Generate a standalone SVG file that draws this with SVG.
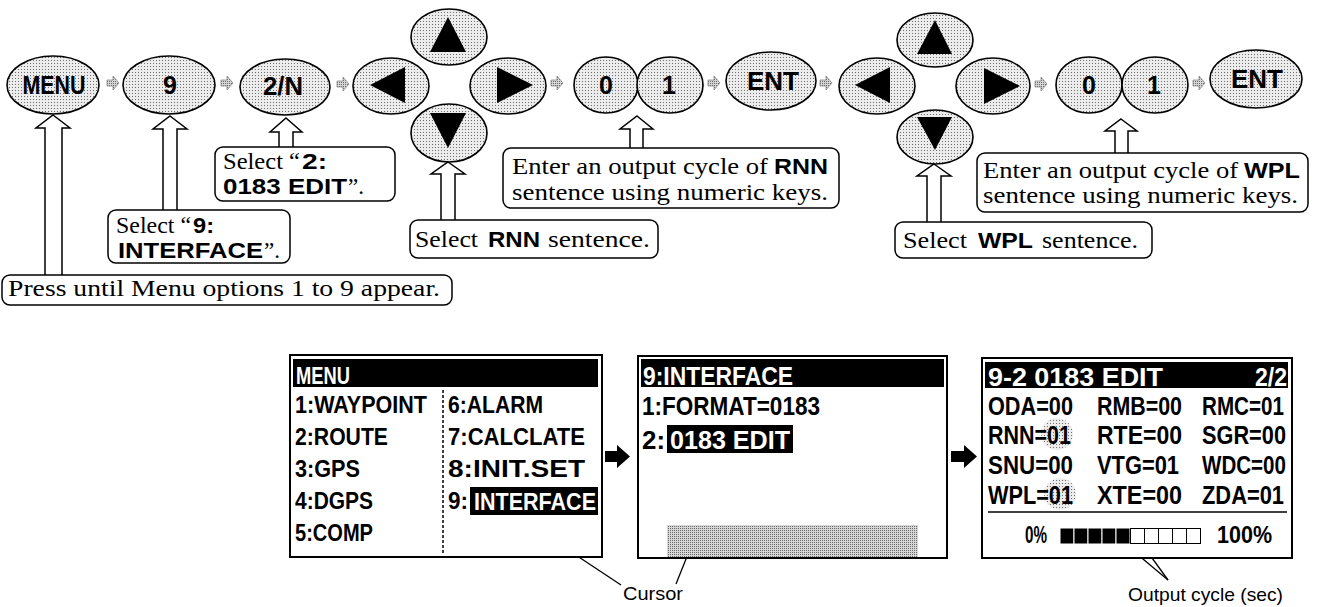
<svg xmlns="http://www.w3.org/2000/svg" width="1317" height="607" viewBox="0 0 1317 607">
<defs>
<pattern id="dots" width="3" height="3" patternUnits="userSpaceOnUse"><rect width="3" height="3" fill="#ececec"/><rect width="1" height="1" fill="#6e6e6e"/></pattern>
<pattern id="dots2" width="2" height="2" patternUnits="userSpaceOnUse"><rect width="2" height="2" fill="#d6d6d6"/><rect width="1" height="1" fill="#6a6a6a"/></pattern>
<style>
.key{fill:url(#dots);stroke:#000;stroke-width:1.6}
.tri{fill:#000}
.kt{font-family:"Liberation Sans",Arial,sans-serif;font-weight:bold;font-size:25px;text-anchor:middle;fill:#000}
.box{fill:#fff;stroke:#000;stroke-width:1.5}
.sf{font-family:"Liberation Serif","Times New Roman",serif;font-size:23px;fill:#000}
.bs{font-family:"Liberation Sans",Arial,sans-serif;font-weight:bold;font-size:22px;fill:#000}
.ca{fill:#fff;stroke:#000;stroke-width:1.5;stroke-linejoin:miter}
.flow{fill:url(#dots2);stroke:#8a8a8a;stroke-width:0.8}
.frame{fill:#fff;stroke:#000;stroke-width:2}
.bar{fill:#000}
.lcd{font-family:"Liberation Sans",Arial,sans-serif;font-weight:bold;font-size:23px;fill:#000}
.lcd2{font-family:"Liberation Sans",Arial,sans-serif;font-weight:bold;font-size:25px;fill:#000}
.w{fill:#fff}
.lab{font-family:"Liberation Sans",Arial,sans-serif;font-size:19px;fill:#000}
.ln{stroke:#000;stroke-width:1.3;fill:none}
.blk{fill:#000}
</style>
</defs>
<rect width="1317" height="607" fill="#fff"/>

<!-- keys -->
<g id="key-menu"><ellipse class="key" cx="53" cy="85" rx="46" ry="29"/><text class="kt" x="54" y="94" textLength="63" lengthAdjust="spacingAndGlyphs">MENU</text></g>
<g id="key-9"><ellipse class="key" cx="169" cy="85" rx="46" ry="29"/><text class="kt" x="170" y="94">9</text></g>
<g id="key-2n"><ellipse class="key" cx="285" cy="87" rx="45" ry="28"/><text class="kt" x="283" y="95" textLength="40" lengthAdjust="spacingAndGlyphs">2/N</text></g>
<g id="key-left1"><ellipse class="key" cx="391" cy="86" rx="38" ry="28"/><polygon class="tri" points="370,85 405,67 405,103"/></g>
<g id="key-up1"><ellipse class="key" cx="449" cy="37" rx="38" ry="28"/><polygon class="tri" points="448,17 430,52 466,52"/></g>
<g id="key-right1"><ellipse class="key" cx="508" cy="86" rx="38" ry="28"/><polygon class="tri" points="533,85 497,67 497,103"/></g>
<g id="key-down1"><ellipse class="key" cx="449" cy="133" rx="38" ry="29"/><polygon class="tri" points="448,148 430,113 466,113"/></g>
<g id="key-0a"><ellipse class="key" cx="606" cy="85" rx="32" ry="28"/><text class="kt" x="606" y="94">0</text></g>
<g id="key-1a"><ellipse class="key" cx="670" cy="85" rx="33" ry="28"/><text class="kt" x="669" y="94">1</text></g>
<g id="key-enta"><ellipse class="key" cx="771" cy="81" rx="45" ry="29"/><text class="kt" x="773" y="90" textLength="52" lengthAdjust="spacingAndGlyphs">ENT</text></g>
<g id="key-left2"><ellipse class="key" cx="877" cy="86" rx="38" ry="28"/><polygon class="tri" points="855,85 890,67 890,103"/></g>
<g id="key-up2"><ellipse class="key" cx="935" cy="40" rx="38" ry="27"/><polygon class="tri" points="935,20 917,54 952,54"/></g>
<g id="key-right2"><ellipse class="key" cx="993" cy="86" rx="37" ry="28"/><polygon class="tri" points="1020,86 984,68 984,104"/></g>
<g id="key-down2"><ellipse class="key" cx="935" cy="137" rx="38" ry="27"/><polygon class="tri" points="935,150 917,117 952,117"/></g>
<g id="key-0b"><ellipse class="key" cx="1089" cy="85" rx="33" ry="28"/><text class="kt" x="1089" y="94">0</text></g>
<g id="key-1b"><ellipse class="key" cx="1155" cy="85" rx="33" ry="28"/><text class="kt" x="1154" y="94">1</text></g>
<g id="key-entb"><ellipse class="key" cx="1256" cy="79" rx="46" ry="29"/><text class="kt" x="1257" y="88" textLength="52" lengthAdjust="spacingAndGlyphs">ENT</text></g>

<!-- connectors -->
<g id="connectors">
<g id="flow-arrows">
<polygon class="flow" transform="translate(113,83)" points="-6,-3 0,-3 0,-7 6,0 0,7 0,3 -6,3"/>
<polygon class="flow" transform="translate(227,83)" points="-6,-3 0,-3 0,-7 6,0 0,7 0,3 -6,3"/>
<polygon class="flow" transform="translate(343,84)" points="-6,-3 0,-3 0,-7 6,0 0,7 0,3 -6,3"/>
<polygon class="flow" transform="translate(557,83)" points="-6,-3 0,-3 0,-7 6,0 0,7 0,3 -6,3"/>
<polygon class="flow" transform="translate(714,83)" points="-6,-3 0,-3 0,-7 6,0 0,7 0,3 -6,3"/>
<polygon class="flow" transform="translate(826,83)" points="-6,-3 0,-3 0,-7 6,0 0,7 0,3 -6,3"/>
<polygon class="flow" transform="translate(1041,84)" points="-6,-3 0,-3 0,-7 6,0 0,7 0,3 -6,3"/>
<polygon class="flow" transform="translate(1199,83)" points="-6,-3 0,-3 0,-7 6,0 0,7 0,3 -6,3"/>
</g>
<g id="callout-arrows">
<polygon class="ca" points="53,115 70,128 62,128 62,276 45,276 45,128 36,128"/>
<polygon class="ca" points="170,116 187,129 177,129 177,211 163,211 163,129 153,129"/>
<polygon class="ca" points="286,118 302,132 293,132 293,148 279,148 279,132 270,132"/>
<polygon class="ca" points="448,162 465,174 455,174 455,221 441,221 441,174 431,174"/>
<polygon class="ca" points="637,116 653,129 643,129 643,149 630,149 630,129 620,129"/>
<polygon class="ca" points="934,164 951,176 941,176 941,223 927,223 927,176 917,176"/>
<polygon class="ca" points="1121,119 1137,131 1128,131 1128,154 1115,154 1115,131 1105,131"/>
</g>
<g id="screen-arrows">
<polygon class="blk" points="605,451 617,451 617,445 630,456.5 617,468 617,462 605,462"/>
<polygon class="blk" points="951,451 964,451 964,445 977,456.5 964,468 964,462 951,462"/>
</g>
<g id="pointer-lines">
<line class="ln" x1="517" y1="516" x2="621" y2="585"/>
<line class="ln" x1="729" y1="452" x2="676" y2="584"/>
<line class="ln" x1="1068" y1="442" x2="1168" y2="580"/>
<line class="ln" x1="1075" y1="502" x2="1168" y2="580"/>
</g>
</g>

<!-- callout boxes -->
<g id="note-press"><rect class="box" x="2" y="275" width="450" height="30" rx="8"/><text class="sf" x="8" y="296" textLength="432" lengthAdjust="spacingAndGlyphs">Press until Menu options 1 to 9 appear.</text></g>
<g id="note-select9"><rect class="box" x="108" y="210" width="182" height="53" rx="8"/>
<text class="sf" x="116" y="233" textLength="75" lengthAdjust="spacingAndGlyphs">Select “</text><text class="bs" x="193" y="233" textLength="21" lengthAdjust="spacingAndGlyphs">9:</text>
<text class="bs" x="118" y="258" textLength="145" lengthAdjust="spacingAndGlyphs">INTERFACE</text><text class="sf" x="264" y="258">”.</text></g>
<g id="note-select2"><rect class="box" x="215" y="147" width="180" height="54" rx="8"/>
<text class="sf" x="223" y="169" textLength="77" lengthAdjust="spacingAndGlyphs">Select “</text><text class="bs" x="302" y="169" textLength="25" lengthAdjust="spacingAndGlyphs">2:</text>
<text class="bs" x="223" y="194" textLength="124" lengthAdjust="spacingAndGlyphs">0183 EDIT</text><text class="sf" x="348" y="194">”.</text></g>
<g id="note-selectrnn"><rect class="box" x="410" y="220" width="248" height="38" rx="8"/>
<text class="sf" x="415" y="247" textLength="63" lengthAdjust="spacingAndGlyphs">Select</text><text class="bs" x="488" y="247" textLength="52" lengthAdjust="spacingAndGlyphs">RNN</text><text class="sf" x="548" y="247" textLength="102" lengthAdjust="spacingAndGlyphs">sentence.</text></g>
<g id="note-enterrnn"><rect class="box" x="503" y="148" width="336" height="60" rx="8"/>
<text class="sf" x="512" y="174" textLength="256" lengthAdjust="spacingAndGlyphs">Enter an output cycle of</text><text class="bs" x="774" y="174" textLength="54" lengthAdjust="spacingAndGlyphs">RNN</text>
<text class="sf" x="512" y="200" textLength="316" lengthAdjust="spacingAndGlyphs">sentence using numeric keys.</text></g>
<g id="note-selectwpl"><rect class="box" x="895" y="222" width="257" height="36" rx="8"/>
<text class="sf" x="903" y="248" textLength="64" lengthAdjust="spacingAndGlyphs">Select</text><text class="bs" x="978" y="248" textLength="55" lengthAdjust="spacingAndGlyphs">WPL</text><text class="sf" x="1042" y="248" textLength="96" lengthAdjust="spacingAndGlyphs">sentence.</text></g>
<g id="note-enterwpl"><rect class="box" x="977" y="153" width="331" height="59" rx="8"/>
<text class="sf" x="983" y="178" textLength="255" lengthAdjust="spacingAndGlyphs">Enter an output cycle of</text><text class="bs" x="1244" y="178" textLength="56" lengthAdjust="spacingAndGlyphs">WPL</text>
<text class="sf" x="983" y="203" textLength="315" lengthAdjust="spacingAndGlyphs">sentence using numeric keys.</text></g>

<!-- screen 1 -->
<g id="screen-menu">
<rect class="frame" x="290" y="355" width="312" height="202"/>
<rect class="bar" x="293" y="359" width="305" height="28"/>
<text class="lcd w" x="296" y="384" textLength="54" lengthAdjust="spacingAndGlyphs">MENU</text>
<text class="lcd" x="295" y="413" textLength="132" lengthAdjust="spacingAndGlyphs">1:WAYPOINT</text>
<text class="lcd" x="295" y="445" textLength="93" lengthAdjust="spacingAndGlyphs">2:ROUTE</text>
<text class="lcd" x="295" y="477" textLength="65" lengthAdjust="spacingAndGlyphs">3:GPS</text>
<text class="lcd" x="295" y="509" textLength="78" lengthAdjust="spacingAndGlyphs">4:DGPS</text>
<text class="lcd" x="295" y="541" textLength="78" lengthAdjust="spacingAndGlyphs">5:COMP</text>
<line x1="443" y1="390" x2="443" y2="555" stroke="#000" stroke-width="1.5" stroke-dasharray="3 2"/>
<text class="lcd" x="448" y="413" textLength="95" lengthAdjust="spacingAndGlyphs">6:ALARM</text>
<text class="lcd" x="448" y="445" textLength="137" lengthAdjust="spacingAndGlyphs">7:CALCLATE</text>
<text class="lcd" x="448" y="477" textLength="137" lengthAdjust="spacingAndGlyphs">8:INIT.SET</text>
<text class="lcd" x="448" y="509" textLength="20" lengthAdjust="spacingAndGlyphs">9:</text>
<rect class="bar" x="470" y="487" width="128" height="28"/>
<text class="lcd w" x="474" y="510" textLength="122" lengthAdjust="spacingAndGlyphs">INTERFACE</text>
</g>

<!-- screen 2 -->
<g id="screen-interface">
<rect class="frame" x="638" y="356" width="309" height="202"/>
<rect class="bar" x="641" y="359" width="303" height="28"/>
<text class="lcd2 w" x="643" y="385" textLength="150" lengthAdjust="spacingAndGlyphs">9:INTERFACE</text>
<text class="lcd2" x="642" y="415" textLength="178" lengthAdjust="spacingAndGlyphs">1:FORMAT=0183</text>
<text class="lcd2" x="642" y="449" textLength="23" lengthAdjust="spacingAndGlyphs">2:</text>
<rect class="bar" x="667" y="425" width="126" height="28"/>
<text class="lcd2 w" x="670" y="449" textLength="120" lengthAdjust="spacingAndGlyphs">0183 EDIT</text>
<rect x="667" y="525" width="251" height="32" fill="url(#dots2)"/>
</g>

<!-- screen 3 -->
<g id="screen-edit">
<rect class="frame" x="982" y="358" width="310" height="200"/>
<rect class="bar" x="985" y="362" width="303" height="26"/>
<text class="lcd2 w" x="988" y="386" textLength="175" lengthAdjust="spacingAndGlyphs">9-2 0183  EDIT</text>
<text class="lcd2 w" x="1255" y="386" textLength="32" lengthAdjust="spacingAndGlyphs">2/2</text>
<circle cx="1057" cy="434" r="16" fill="url(#dots)"/>
<circle cx="1060" cy="494" r="16" fill="url(#dots)"/>
<text class="lcd2" x="988" y="415" textLength="85" lengthAdjust="spacingAndGlyphs">ODA=00</text>
<text class="lcd2" x="1097" y="415" textLength="85" lengthAdjust="spacingAndGlyphs">RMB=00</text>
<text class="lcd2" x="1202" y="415" textLength="82" lengthAdjust="spacingAndGlyphs">RMC=01</text>
<text class="lcd2" x="988" y="444" textLength="83" lengthAdjust="spacingAndGlyphs">RNN=01</text>
<text class="lcd2" x="1097" y="444" textLength="85" lengthAdjust="spacingAndGlyphs">RTE=00</text>
<text class="lcd2" x="1202" y="444" textLength="84" lengthAdjust="spacingAndGlyphs">SGR=00</text>
<text class="lcd2" x="988" y="474" textLength="85" lengthAdjust="spacingAndGlyphs">SNU=00</text>
<text class="lcd2" x="1097" y="474" textLength="82" lengthAdjust="spacingAndGlyphs">VTG=01</text>
<text class="lcd2" x="1202" y="474" textLength="84" lengthAdjust="spacingAndGlyphs">WDC=00</text>
<text class="lcd2" x="988" y="504" textLength="85" lengthAdjust="spacingAndGlyphs">WPL=01</text>
<text class="lcd2" x="1097" y="504" textLength="85" lengthAdjust="spacingAndGlyphs">XTE=00</text>
<text class="lcd2" x="1202" y="504" textLength="82" lengthAdjust="spacingAndGlyphs">ZDA=01</text>
<line x1="988" y1="512" x2="1287" y2="512" stroke="#000" stroke-width="1.5"/>
<text class="lcd" x="1025" y="543" textLength="22" lengthAdjust="spacingAndGlyphs">0%</text>
<g stroke="#fff" stroke-width="1">
<rect x="1060" y="528" width="14" height="16" fill="#000"/>
<rect x="1074" y="528" width="14" height="16" fill="#000"/>
<rect x="1088" y="528" width="14" height="16" fill="#000"/>
<rect x="1102" y="528" width="14" height="16" fill="#000"/>
<rect x="1116" y="528" width="14" height="16" fill="#000"/>
</g>
<g stroke="#000" stroke-width="1" fill="#fff">
<rect x="1130.5" y="528.5" width="14" height="15"/>
<rect x="1144.5" y="528.5" width="14" height="15"/>
<rect x="1158.5" y="528.5" width="14" height="15"/>
<rect x="1172.5" y="528.5" width="14" height="15"/>
<rect x="1186.5" y="528.5" width="14" height="15"/>
</g>
<text class="lcd" x="1217" y="543" textLength="55" lengthAdjust="spacingAndGlyphs">100%</text>
</g>

<!-- pointer labels -->
<g id="label-cursor"><text class="lab" x="623" y="600" textLength="60" lengthAdjust="spacingAndGlyphs">Cursor</text></g>
<g id="label-output"><text class="lab" x="1128" y="601" textLength="155" lengthAdjust="spacingAndGlyphs">Output cycle (sec)</text></g>
</svg>
